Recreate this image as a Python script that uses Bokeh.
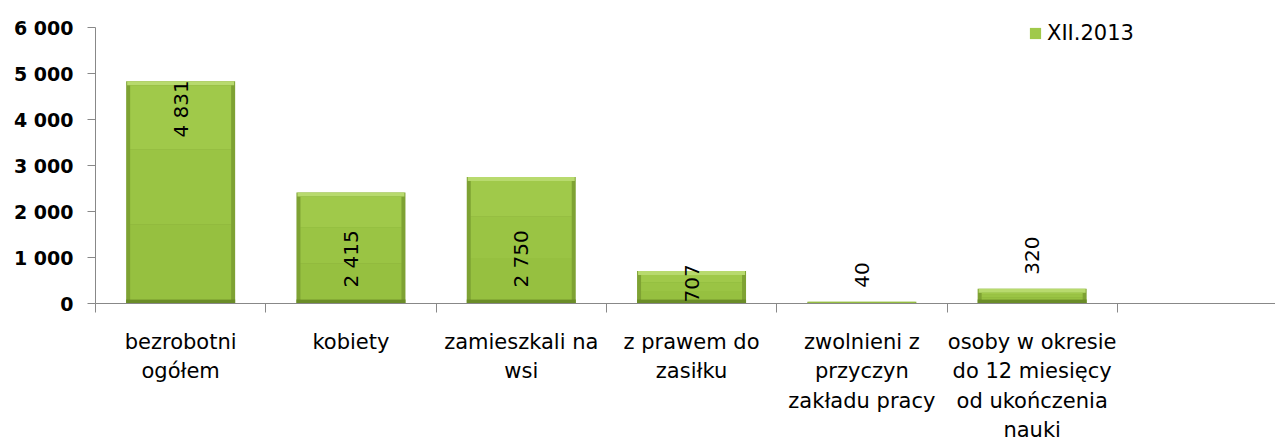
import math
from bokeh.plotting import figure
from bokeh.models import (Range1d, FixedTicker, Legend, LegendItem, ColumnDataSource)
from bokeh.embed import file_html
from bokeh.resources import INLINE

# ---- data ----
categories = ["bezrobotni\nogółem", "kobiety", "zamieszkali na\nwsi", "z prawem do\nzasiłku",
              "zwolnieni z\nprzyczyn\nzakładu pracy", "osoby w okresie\ndo 12 miesięcy\nod ukończenia\nnauki"]
values = [4831, 2415, 2750, 707, 40, 320]
value_labels = ["4 831", "2 415", "2 750", "707", "40", "320"]
label_modes = ["inside_end", "inside_base", "inside_base", "center", "outside_end", "outside_end"]
series_name = "XII.2013"
y_ticks = [0, 1000, 2000, 3000, 4000, 5000, 6000]
y_tick_labels = ["0", "1 000", "2 000", "3 000", "4 000", "5 000", "6 000"]
n_slots = 7

W, H = 1275, 445
LEFT = 95
AXIS_Y = 303          # screen y of value 0
TOP_TICK_Y = 27       # screen y of value 6000
TOP = 5               # frame top
FRAME_W = W - LEFT
FRAME_H = AXIS_Y - TOP
BOTTOM = H - AXIS_Y
SLOT_PX = 170.3
x_max = FRAME_W / SLOT_PX
px_y = 6000.0 / (AXIS_Y - TOP_TICK_Y)
px_x = 1.0 / SLOT_PX
y_max = 6000 + (TOP_TICK_Y - TOP) * px_y

p = figure(width=W, height=H, output_backend="svg", toolbar_location=None,
           x_range=Range1d(0, x_max), y_range=Range1d(0, y_max),
           min_border_left=LEFT, min_border_top=TOP, min_border_right=0, min_border_bottom=BOTTOM)
p.outline_line_color = None
p.grid.visible = False
p.background_fill_color = "white"

xs = [i + 0.5 for i in range(len(values))]
bar_w = 0.64
bev_px = [min(4.0, (v / px_y) * 0.3) for v in values]
bev_y = [b * px_y for b in bev_px]
bev_x = [b * px_x for b in bev_px]

# sides (base)
p.vbar(x=xs, width=bar_w, top=values, bottom=0, fill_color="#7ea233", line_color=None)
# bottom bevel
p.vbar(x=xs, width=bar_w, top=bev_y, bottom=0, fill_color="#6a8c27", line_color=None)
# top bevel
p.vbar(x=xs, width=[bar_w - 2 * px_x] * len(values), top=values,
       bottom=[v - b for v, b in zip(values, bev_y)], fill_color="#b8da6e", line_color=None)
# body bands (light at top, a little darker lower down)
body_w = [bar_w - 2 * b for b in bev_x]
inner_top = [v - b for v, b in zip(values, bev_y)]
b1 = [bb + (t - bb) * 0.35 for bb, t in zip(bev_y, inner_top)]
b2 = [bb + (t - bb) * 0.7 for bb, t in zip(bev_y, inner_top)]
p.vbar(x=xs, width=body_w, top=b1, bottom=bev_y, fill_color="#96c040", line_color=None)
p.vbar(x=xs, width=body_w, top=b2, bottom=b1, fill_color="#9ac444", line_color=None)
body = p.vbar(x=xs, width=body_w, top=inner_top, bottom=b2, fill_color="#a0c94a", line_color=None)

# value labels (rotated)
LABEL_FS = 20
ly, la = [], []
for v, t, m in zip(values, value_labels, label_modes):
    if m == "inside_end":
        ly.append(v + 1 * px_y); la.append("right")
    elif m == "inside_base":
        ly.append(16 * px_y); la.append("left")
    elif m == "center":
        half = len(t) * 0.636 * LABEL_FS / 2
        ly.append(max(v / 2, (half + 1) * px_y)); la.append("center")
    else:
        ly.append(v + 14 * px_y); la.append("left")
src = ColumnDataSource(dict(x=xs, y=ly, t=value_labels, a=la))
p.text(x="x", y="y", text="t", text_align="a", source=src, angle=math.pi / 2,
       text_baseline="middle", text_font_size=f"{LABEL_FS}px", text_font={"value": "DejaVu Sans"},
       text_color="#000000")

# x axis: minor ticks at slot boundaries, labels at centres
xa = p.xaxis[0]
xa.ticker = FixedTicker(ticks=xs, minor_ticks=list(range(n_slots)))
xa.major_label_overrides = {x: c for x, c in zip(xs, categories)}
xa.major_tick_out = 0
xa.major_tick_in = 0
xa.minor_tick_out = 9
xa.minor_tick_in = 0
xa.minor_tick_line_color = "#888888"
xa.axis_line_color = "#888888"
xa.major_label_standoff = 17
xa.major_label_text_font = "DejaVu Sans"
xa.major_label_text_font_size = "21px"
xa.major_label_text_line_height = 1.23
xa.major_label_text_color = "#000000"

ya = p.yaxis[0]
ya.ticker = FixedTicker(ticks=y_ticks)
ya.bounds = (0, 6000)
ya.major_label_overrides = {t: l for t, l in zip(y_ticks, y_tick_labels)}
ya.minor_tick_line_color = None
ya.major_tick_out = 8
ya.major_tick_in = 0
ya.major_tick_line_color = "#888888"
ya.axis_line_color = "#888888"
ya.major_label_standoff = 14
ya.major_label_text_font = "DejaVu Sans"
ya.major_label_text_font_style = "bold"
ya.major_label_text_font_size = "19px"
ya.major_label_text_color = "#000000"

legend = Legend(items=[LegendItem(label=series_name, renderers=[body])],
                location=(933, 258), orientation="vertical",
                glyph_width=14, glyph_height=14, padding=0, spacing=0, margin=0,
                label_text_font="DejaVu Sans", label_text_font_size="21px",
                label_text_color="#000000",
                label_standoff=5, border_line_color=None, background_fill_alpha=0)
p.add_layout(legend, "center")

open("out.html", "w").write(file_html(p, INLINE))
